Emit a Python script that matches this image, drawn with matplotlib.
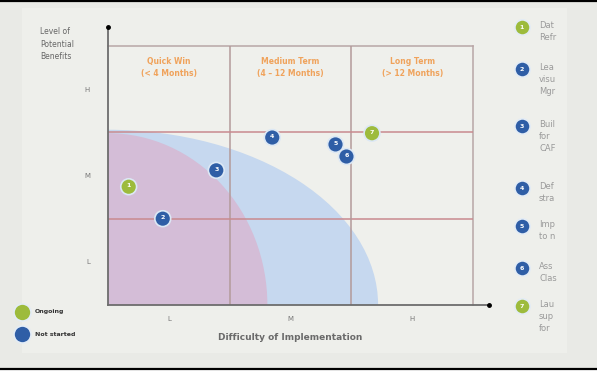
import matplotlib.pyplot as plt
from matplotlib.patches import Ellipse, Rectangle

# initiatives plotted on the difficulty / benefit grid
item_ids = [1, 2, 3, 4, 5, 6, 7]
status = ["Ongoing", "Not started", "Not started", "Not started",
          "Not started", "Not started", "Ongoing"]
difficulty = [0.17, 0.45, 0.89, 1.35, 1.87, 1.96, 2.17]
benefit = [1.37, 1.00, 1.56, 1.94, 1.86, 1.72, 1.99]

level_labels = ["L", "M", "H"]
column_titles = ["Quick Win\n(< 4 Months)", "Medium Term\n(4 \u2013 12 Months)",
                 "Long Term\n(> 12 Months)"]

# side list (cut off at the slide edge in the source)
list_text = ["Dat\nRefr", "Lea\nvisu\nMgr", "Buil\nfor\nCAF", "Def\nstra",
             "Imp\nto n", "Ass\nClas", "Lau\nsup\nfor"]
list_y = [27, 69, 126, 188, 226, 268, 306]

colors = {"Ongoing": "#9dbb3c", "Not started": "#2f5ea6"}

W, H = 597, 374
fig = plt.figure(figsize=(W / 100, H / 100), dpi=100)
fig.patch.set_facecolor("#e9eae6")

# page-level decoration in pixel coordinates
bg = fig.add_axes([0, 0, 1, 1], zorder=0)
bg.set_xlim(0, W)
bg.set_ylim(H, 0)
bg.axis("off")
bg.add_patch(Rectangle((22, 8), 545, 345, color="#eeefeb", lw=0))
bg.add_patch(Rectangle((0, 369), W, 6, color="white", lw=0))
bg.plot([0, W], [1, 1], color="black", lw=1.6)
bg.plot([0, W], [368.5, 368.5], color="black", lw=1.6)

# status legend, bottom left
for st, yy in zip(["Ongoing", "Not started"], [312, 334]):
    bg.scatter(22, yy, s=150, color=colors[st], edgecolor="#e3ecf6", lw=1.2, zorder=3)
    bg.text(35, yy, st, fontsize=4.5, color="#333333", va="center", fontweight="bold")

# numbered list on the right
for n, st, yy, txt in zip(item_ids, status, list_y, list_text):
    bg.scatter(522, yy, s=120, color=colors[st], edgecolor="#e3ecf6", lw=1.2, zorder=3)
    bg.text(522, yy + 0.5, str(n), fontsize=4.5, color="white", ha="center", va="center",
            fontweight="bold", zorder=4)
    bg.text(539, yy - 6, txt, fontsize=6, color="#9a9a9a", va="top", linespacing=1.45)

bg.text(40, 27, "Level of\nPotential\nBenefits", fontsize=5.5, color="#666666",
        va="top", ha="left", linespacing=1.5)

# main grid
ax = fig.add_axes([108 / W, 1 - 305 / H, 365 / W, 259 / H], zorder=1)
ax.set_facecolor("#eff0ec")
ax.set_xlim(0, 3)
ax.set_ylim(0, 3)

ax.add_patch(Ellipse((0, 0), 2 * 2.22, 2 * 2.03, color="#c6d8ef", lw=0, zorder=1))
ax.add_patch(Ellipse((0, 0), 2 * 1.31, 2 * 1.99, color="#d4bdd7", lw=0, zorder=2))

for v in [1, 2]:
    ax.axvline(v, color="#b39a9a", lw=1.1, zorder=3)
    ax.axhline(v, color="#c98a8f", lw=1.1, zorder=3)
for s in ["top", "right"]:
    ax.spines[s].set_color("#b8a6a6")
    ax.spines[s].set_linewidth(1.1)
for s in ["left", "bottom"]:
    ax.spines[s].set_visible(False)

# axis arrows
ax.plot([0, 3.13], [0, 0], color="#6d6d6d", lw=1.3, clip_on=False, zorder=5)
ax.plot([0, 0], [0, 3.22], color="#6d6d6d", lw=1.3, clip_on=False, zorder=5)
ax.plot([3.13], [0], "o", color="black", ms=2.5, clip_on=False, zorder=6)
ax.plot([0], [3.22], "o", color="black", ms=2.5, clip_on=False, zorder=6)

for i, t in enumerate(column_titles):
    ax.text(i + 0.5, 2.75, t, fontsize=5.5, color="#f0a35c", ha="center", va="center",
            fontweight="bold", linespacing=1.4, zorder=4)

ax.scatter(difficulty, benefit, s=130, c=[colors[s] for s in status],
           edgecolors="#dce8f5", linewidths=1.2, zorder=6)
for n, x, y in zip(item_ids, difficulty, benefit):
    ax.text(x, y + 0.01, str(n), fontsize=4.5, color="white", ha="center", va="center",
            fontweight="bold", zorder=7)

ax.set_xticks([0.5, 1.5, 2.5], level_labels)
ax.set_yticks([0.5, 1.5, 2.5], level_labels)
ax.tick_params(length=0, labelsize=5, labelcolor="#777777")
ax.tick_params(axis="x", pad=8)
ax.tick_params(axis="y", pad=13)
ax.set_xlabel("Difficulty of Implementation", fontsize=6.5, color="#6a6a6a",
              fontweight="bold", labelpad=8)

fig.savefig("out.png", dpi=100, facecolor=fig.get_facecolor())
